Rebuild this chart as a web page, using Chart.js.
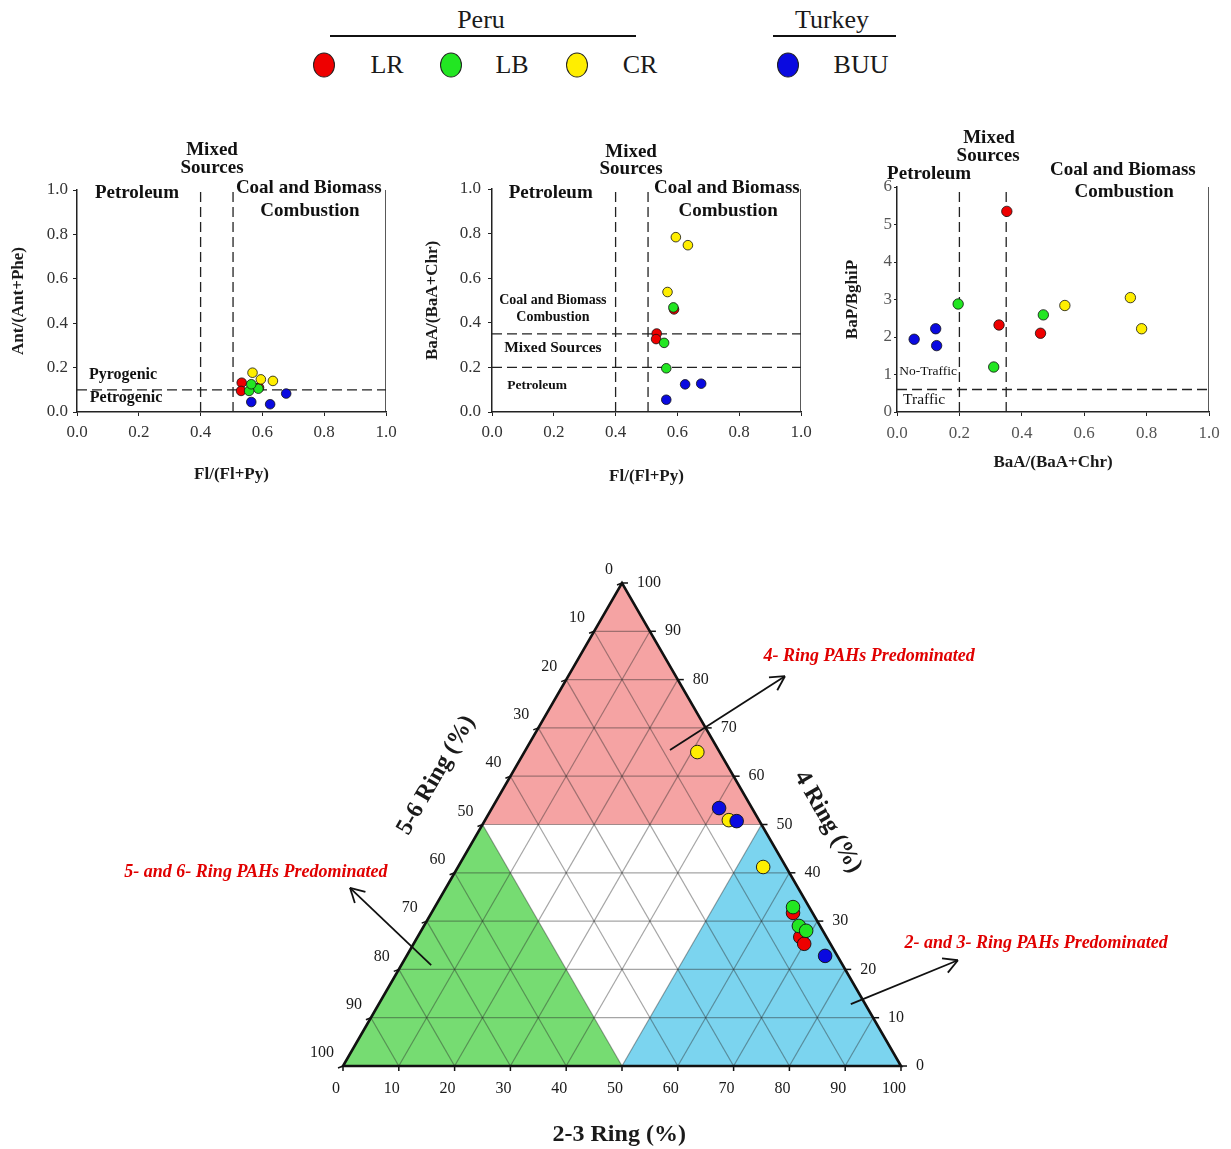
<!DOCTYPE html>
<html>
<head>
<meta charset="utf-8">
<script src="https://cdn.jsdelivr.net/npm/chart.js@4.4.1/dist/chart.umd.min.js"></script>
<style>
	body{margin:0;background:#fff;width:1231px;height:1149px;position:relative;overflow:hidden;font-family:"Liberation Serif",serif}
	canvas{position:absolute}
	.txt{position:absolute;font-size:26px;color:#1a1a1a;transform:translate(-50%,-50%);white-space:nowrap}
	.raya{position:absolute;height:2px;background:#111}
	.bola{position:absolute;width:22px;height:25px;border-radius:50%;border:1.5px solid #222;box-sizing:border-box;transform:translate(-50%,-50%)}
</style>
</head>
<body>
<div id="leyenda"></div>
<canvas id="g1" width="410" height="370" style="left:0;top:130px"></canvas>
<canvas id="g2" width="410" height="370" style="left:410px;top:130px"></canvas>
<canvas id="g3" width="400" height="370" style="left:830px;top:120px"></canvas>
<canvas id="g4" width="1231" height="609" style="left:0;top:540px"></canvas>
<script>
// sites and countries
const sites = ["LR", "LB", "CR", "BUU"]
const colores = ["#ee0000", "#22e622", "#ffee00", "#0a0ae0"]

// Fl/(Fl+Py)
const flPyLR = [0.589, 0.533, 0.531]
const flPyLB = [0.587, 0.557, 0.564]
const flPyCR = [0.595, 0.634, 0.568]
const flPyBUU = [0.625, 0.677, 0.564]

// Ant/(Ant+Phe)
const antPheLR = [0.11, 0.132, 0.095]
const antPheLB = [0.105, 0.095, 0.125]
const antPheCR = [0.147, 0.14, 0.177]
const antPheBUU = [0.035, 0.083, 0.045]

// BaA/(BaA+Chr)
const baaChrLR = [0.46, 0.352, 0.327]
const baaChrLB = [0.469, 0.31, 0.196]
const baaChrCR = [0.784, 0.748, 0.538]
const baaChrBUU = [0.124, 0.127, 0.055]

// BaP/BghiP
const bapBghipLR = [2.1, 5.35, 2.32]
const bapBghipLB = [2.59, 1.2, 2.88]
const bapBghipCR = [2.22, 3.05, 2.84]
const bapBghipBUU = [2.22, 1.77, 1.94]

// ring composition (%)
const ring23LR = [64.8, 68.6, 70.0]
const ring4LR = [31.7, 26.7, 25.3]
const ring56LR = [3.5, 4.7, 4.7]
const ring23LB = [64.2, 67.2, 69.0]
const ring4LB = [32.9, 29.0, 28.0]
const ring56LB = [2.9, 3.8, 3.0]
const ring23CR = [31.0, 43.7, 54.7]
const ring4CR = [65.0, 50.9, 41.2]
const ring56CR = [4.0, 5.4, 4.1]
const ring23BUU = [40.7, 45.2, 75.0]
const ring4BUU = [53.4, 50.7, 22.8]
const ring56BUU = [5.9, 4.1, 2.2]

const ternTicks = [0, 10, 20, 30, 40, 50, 60, 70, 80, 90, 100]

const flPy = [flPyLR, flPyLB, flPyCR, flPyBUU]
const antPhe = [antPheLR, antPheLB, antPheCR, antPheBUU]
const baaChr = [baaChrLR, baaChrLB, baaChrCR, baaChrBUU]
const bapBghip = [bapBghipLR, bapBghipLB, bapBghipCR, bapBghipBUU]
const ring23 = [ring23LR, ring23LB, ring23CR, ring23BUU]
const ring4 = [ring4LR, ring4LB, ring4CR, ring4BUU]

const SERIF = "'Liberation Serif', 'Times New Roman', serif"

// legend
function leyenda(){
	var html = ""
	html += '<div class="txt" style="left:481px;top:20px">Peru</div>'
	html += '<div class="raya" style="left:330px;top:35px;width:306px"></div>'
	html += '<div class="txt" style="left:832px;top:20px">Turkey</div>'
	html += '<div class="raya" style="left:773px;top:35px;width:123px"></div>'
	var bolaX = [324, 451, 577, 788]
	var textoX = [387, 512, 640, 861]
	sites.forEach((s, i) => {
		html += '<div class="bola" style="left:' + bolaX[i] + 'px;top:65px;background:' + colores[i] + '"></div>'
		html += '<div class="txt" style="left:' + textoX[i] + 'px;top:65px">' + s + '</div>'
	})
	document.getElementById("leyenda").innerHTML = html
}
leyenda()

const textos = {
	id: "textos",
	afterDraw(chart, args, opts){
		const {ctx} = chart
		const x = chart.scales.x, y = chart.scales.y
		ctx.save()
		ctx.fillStyle = "#111"
		ctx.textAlign = "center"
		ctx.textBaseline = "middle"
		opts.items.forEach(t => {
			ctx.font = t.f
			ctx.fillText(t.s, x.getPixelForValue(t.x), y.getPixelForValue(t.y))
		})
		ctx.restore()
	}
}

function linea(puntos, dash){
	return {
		data: puntos,
		showLine: true,
		borderColor: "#222",
		borderWidth: dash ? 1.3 : 1.5,
		borderDash: dash ? [10, 5] : [],
		pointRadius: 0,
		order: 10
	}
}

function dispersion(id, xs, ys, cfg){
	var ds = []
	sites.forEach((s, i) => {
		ds.push({
			label: s,
			data: xs[i].map((v, j) => ({x: v, y: ys[i][j]})),
			backgroundColor: colores[i],
			borderColor: "#111",
			borderWidth: 0.8,
			pointRadius: cfg.radio,
			order: 4 - i
		})
	})
	cfg.lineas.forEach(l => ds.push(linea(l.p, l.dash)))

	new Chart(document.getElementById(id), {
		type: "scatter",
		data: {datasets: ds},
		plugins: [textos],
		options: {
			responsive: false,
			animation: false,
			layout: {autoPadding: false, padding: {top: cfg.pad[0], right: cfg.pad[1], left: 0, bottom: 0}},
			plugins: {
				legend: {display: false},
				tooltip: {enabled: false},
				textos: {items: cfg.textos}
			},
			scales: {
				x: {
					type: "linear", min: 0, max: 1,
					afterFit: s => { s.height = cfg.altoX },
					ticks: {stepSize: 0.2, callback: v => v.toFixed(1), font: {family: SERIF, size: 17}, color: cfg.colorTick, padding: cfg.padTickX, maxRotation: 0},
					grid: {drawOnChartArea: false, tickLength: 4, color: "#222"},
					border: {color: "#222", width: 1.5},
					title: {display: true, text: cfg.tituloX, font: {family: SERIF, size: 17, weight: "bold"}, color: "#1a1a1a", padding: {top: 0, bottom: cfg.padTitX}}
				},
				y: {
					type: "linear", min: 0, max: cfg.maxY,
					afterFit: s => { s.width = cfg.anchoY },
					ticks: {stepSize: cfg.pasoY, callback: cfg.fmtY, font: {family: SERIF, size: 17}, color: cfg.colorTick, padding: cfg.padTickY},
					grid: {drawOnChartArea: false, tickLength: cfg.tickY, color: "#222"},
					border: {color: "#222", width: 1.5},
					title: {display: true, text: cfg.tituloY, font: {family: SERIF, size: 17, weight: "bold"}, color: "#1a1a1a", padding: {top: cfg.padTitY, bottom: 0}}
				}
			}
		}
	})
}

const B19 = "bold 19px " + SERIF

dispersion("g1", flPy, antPhe, {
	radio: 4.8, pad: [60, 24], altoX: 88, anchoY: 77, maxY: 1, pasoY: 0.2,
	fmtY: v => v.toFixed(1), colorTick: "#333", padTickX: 6, padTickY: 5, tickY: 4,
	tituloX: "Fl/(Fl+Py)", tituloY: "Ant/(Ant+Phe)", padTitX: 15, padTitY: 8,
	lineas: [
		{p: [{x: 0.4, y: 0}, {x: 0.4, y: 1}], dash: true},
		{p: [{x: 0.505, y: 0}, {x: 0.505, y: 1}], dash: true},
		{p: [{x: 0, y: 0.1}, {x: 1, y: 0.1}], dash: true},
		{p: [{x: 1, y: 0}, {x: 1, y: 1}], dash: false}
	],
	textos: [
		{s: "Mixed", x: 0.437, y: 1.18, f: B19},
		{s: "Sources", x: 0.437, y: 1.1, f: B19},
		{s: "Petroleum", x: 0.194, y: 0.986, f: B19},
		{s: "Coal and Biomass", x: 0.75, y: 1.01, f: B19},
		{s: "Combustion", x: 0.754, y: 0.905, f: B19},
		{s: "Pyrogenic", x: 0.149, y: 0.167, f: "bold 16px " + SERIF},
		{s: "Petrogenic", x: 0.159, y: 0.063, f: "bold 16px " + SERIF}
	]
})

dispersion("g2", flPy, baaChr, {
	radio: 4.8, pad: [59, 19], altoX: 88, anchoY: 82, maxY: 1, pasoY: 0.2,
	fmtY: v => v.toFixed(1), colorTick: "#333", padTickX: 6, padTickY: 7, tickY: 4,
	tituloX: "Fl/(Fl+Py)", tituloY: "BaA/(BaA+Chr)", padTitX: 13, padTitY: 12,
	lineas: [
		{p: [{x: 0.4, y: 0}, {x: 0.4, y: 1}], dash: true},
		{p: [{x: 0.505, y: 0}, {x: 0.505, y: 1}], dash: true},
		{p: [{x: 0, y: 0.35}, {x: 1, y: 0.35}], dash: true},
		{p: [{x: 0, y: 0.2}, {x: 1, y: 0.2}], dash: true},
		{p: [{x: 1, y: 0}, {x: 1, y: 1}], dash: false}
	],
	textos: [
		{s: "Mixed", x: 0.45, y: 1.166, f: B19},
		{s: "Sources", x: 0.45, y: 1.09, f: B19},
		{s: "Petroleum", x: 0.19, y: 0.982, f: B19},
		{s: "Coal and Biomass", x: 0.76, y: 1.004, f: B19},
		{s: "Combustion", x: 0.764, y: 0.901, f: B19},
		{s: "Coal and Biomass", x: 0.197, y: 0.502, f: "bold 14px " + SERIF},
		{s: "Combustion", x: 0.197, y: 0.426, f: "bold 14px " + SERIF},
		{s: "Mixed Sources", x: 0.197, y: 0.287, f: "bold 15.5px " + SERIF},
		{s: "Petroleum", x: 0.146, y: 0.117, f: "bold 13.5px " + SERIF}
	]
})

dispersion("g3", baaChr, bapBghip, {
	radio: 5.2, pad: [67, 21], altoX: 78, anchoY: 67, maxY: 6, pasoY: 1,
	fmtY: v => String(v), colorTick: "#555", padTickX: 7, padTickY: 2, tickY: 3,
	tituloX: "BaA/(BaA+Chr)", tituloY: "BaP/BghiP", padTitX: 17, padTitY: 12,
	lineas: [
		{p: [{x: 0.2, y: 0}, {x: 0.2, y: 6}], dash: true},
		{p: [{x: 0.35, y: 0}, {x: 0.35, y: 6}], dash: true},
		{p: [{x: 0, y: 0.6}, {x: 1, y: 0.6}], dash: true},
		{p: [{x: 1, y: 0}, {x: 1, y: 6}], dash: false}
	],
	textos: [
		{s: "Mixed", x: 0.295, y: 7.31, f: B19},
		{s: "Sources", x: 0.292, y: 6.83, f: B19},
		{s: "Petroleum", x: 0.103, y: 6.35, f: B19},
		{s: "Coal and Biomass", x: 0.724, y: 6.45, f: B19},
		{s: "Combustion", x: 0.728, y: 5.87, f: B19},
		{s: "No-Traffic", x: 0.1, y: 1.09, f: "13.5px " + SERIF},
		{s: "Traffic", x: 0.087, y: 0.32, f: "15.5px " + SERIF}
	]
})

// ternary: x = 2-3 ring + 4 ring / 2, y = 4 ring
const ternario = {
	id: "ternario",
	beforeDatasetsDraw(chart){
		const {ctx} = chart
		const sx = chart.scales.x, sy = chart.scales.y
		const P = (a, b) => [sx.getPixelForValue(a + b / 2), sy.getPixelForValue(b)]
		const poli = (pts, color) => {
			ctx.beginPath()
			pts.forEach((p, i) => { const q = P(p[0], p[1]); i ? ctx.lineTo(q[0], q[1]) : ctx.moveTo(q[0], q[1]) })
			ctx.closePath()
			ctx.fillStyle = color
			ctx.fill()
		}
		const seg = (p1, p2) => {
			ctx.beginPath()
			ctx.moveTo(p1[0], p1[1])
			ctx.lineTo(p2[0], p2[1])
			ctx.stroke()
		}
		ctx.save()
		poli([[50, 50], [0, 50], [0, 100]], "#f5a3a3")
		poli([[0, 0], [50, 0], [0, 50]], "#76dc72")
		poli([[50, 0], [100, 0], [50, 50]], "#7bd4ef")

		// grid
		ctx.strokeStyle = "rgba(40,40,40,0.42)"
		ctx.lineWidth = 1.2
		ternTicks.slice(1, -1).forEach(k => {
			seg(P(100 - k, k), P(0, k))
			seg(P(k, 100 - k), P(k, 0))
			seg(P(100 - k, 0), P(0, 100 - k))
		})

		// frame
		ctx.strokeStyle = "#111"
		ctx.lineWidth = 2.6
		ctx.beginPath()
		const v = [P(0, 0), P(100, 0), P(0, 100)]
		ctx.moveTo(v[0][0], v[0][1]); ctx.lineTo(v[1][0], v[1][1]); ctx.lineTo(v[2][0], v[2][1]); ctx.closePath()
		ctx.stroke()

		// ticks and tick labels
		ctx.lineWidth = 1.5
		ctx.fillStyle = "#1a1a1a"
		ctx.font = "16px " + SERIF
		ternTicks.forEach(k => {
			var p = P(k, 0)
			seg(p, [p[0], p[1] + 5])
			ctx.textAlign = "center"; ctx.textBaseline = "middle"
			ctx.fillText(String(k), p[0] - 7, p[1] + 23)

			p = P(100 - k, k)
			seg(p, [p[0] + 6, p[1]])
			ctx.textAlign = "left"
			ctx.fillText(String(k), p[0] + 15, p[1])

			p = P(0, 100 - k)
			seg(p, [p[0] - 5, p[1] + 2])
			ctx.textAlign = "right"
			ctx.fillText(String(k), p[0] - 9, p[1] - 13)
		})

		// axis titles
		ctx.font = "bold 24px " + SERIF
		ctx.textAlign = "center"
		const titulo = (s, x, y, ang) => {
			ctx.save()
			ctx.translate(sx.getPixelForValue(x), sy.getPixelForValue(y))
			ctx.rotate(ang)
			ctx.fillText(s, 0, 0)
			ctx.restore()
		}
		titulo("2-3 Ring (%)", 49.5, -14.3, 0)
		titulo("4 Ring (%)", 86.9, 50.5, Math.PI / 3)
		titulo("5-6 Ring (%)", 16.7, 60.2, -Math.PI / 3)

		// arrows and region labels
		const flecha = (x1, y1, x2, y2) => {
			const a = [sx.getPixelForValue(x1), sy.getPixelForValue(y1)]
			const b = [sx.getPixelForValue(x2), sy.getPixelForValue(y2)]
			const ang = Math.atan2(b[1] - a[1], b[0] - a[0])
			ctx.strokeStyle = "#111"
			ctx.lineWidth = 1.8
			seg(a, b)
			seg(b, [b[0] - 16 * Math.cos(ang - 0.5), b[1] - 16 * Math.sin(ang - 0.5)])
			seg(b, [b[0] - 16 * Math.cos(ang + 0.5), b[1] - 16 * Math.sin(ang + 0.5)])
		}
		flecha(58.6, 65.4, 79.2, 80.7)
		flecha(91.0, 12.8, 110.2, 21.9)
		flecha(15.8, 20.9, 1.25, 36.9)

		ctx.fillStyle = "#e00000"
		ctx.font = "italic bold 18px " + SERIF
		ctx.fillText("4- Ring PAHs Predominated", sx.getPixelForValue(94.3), sy.getPixelForValue(84.9))
		ctx.fillText("2- and 3- Ring PAHs Predominated", sx.getPixelForValue(124.2), sy.getPixelForValue(25.3))
		ctx.fillText("5- and 6- Ring PAHs Predominated", sx.getPixelForValue(-15.6), sy.getPixelForValue(40.0))
		ctx.restore()
	}
}

var dsTern = []
sites.forEach((s, i) => {
	dsTern.push({
		label: s,
		data: ring23[i].map((a, j) => ({x: a + ring4[i][j] / 2, y: ring4[i][j]})),
		backgroundColor: colores[i],
		borderColor: "#111",
		borderWidth: 0.9,
		pointRadius: 6.8,
		clip: false,
		order: 4 - i
	})
})

new Chart(document.getElementById("g4"), {
	type: "scatter",
	data: {datasets: dsTern},
	plugins: [ternario],
	options: {
		responsive: false,
		animation: false,
		layout: {autoPadding: false, padding: 0},
		plugins: {legend: {display: false}, tooltip: {enabled: false}},
		scales: {
			x: {type: "linear", display: false, min: -61.47, max: 159.14},
			y: {type: "linear", display: false, min: -17.18, max: 108.9}
		}
	}
})
</script>
</body>
</html>
